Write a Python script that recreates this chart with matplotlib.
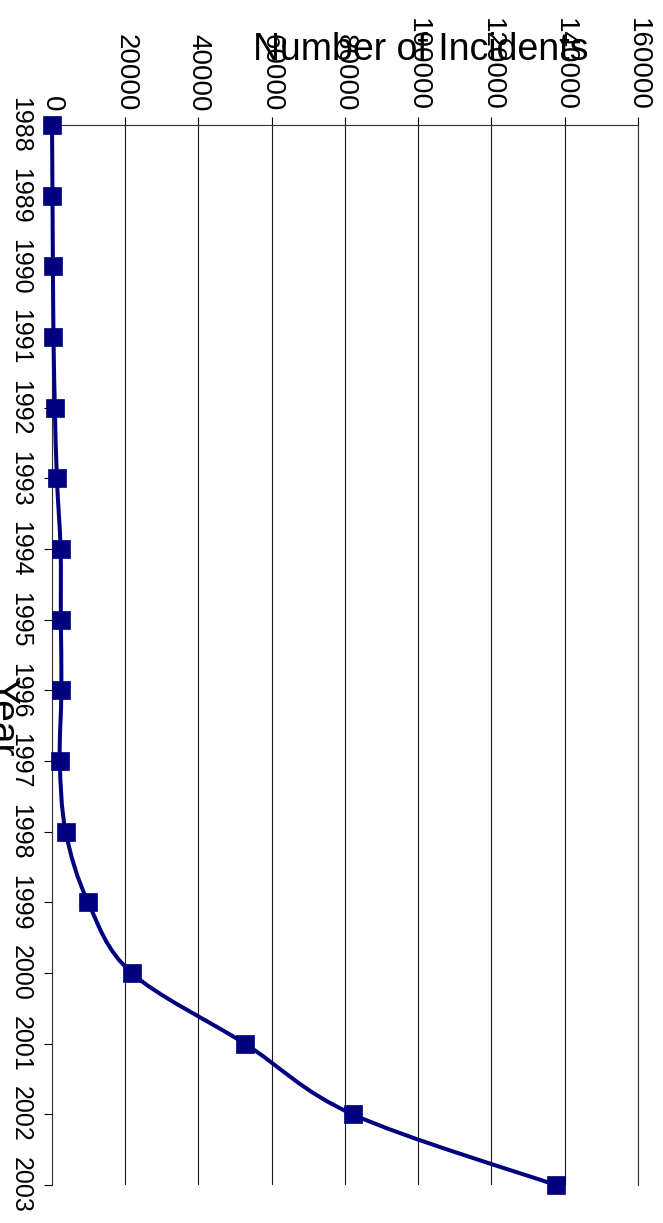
import matplotlib
matplotlib.use("Agg")
import matplotlib.pyplot as plt
from matplotlib.path import Path
from matplotlib.patches import PathPatch

plt.rcParams["font.family"] = ["Liberation Sans", "DejaVu Sans"]

# Reported incidents per year
years = [1988, 1989, 1990, 1991, 1992, 1993, 1994, 1995,
         1996, 1997, 1998, 1999, 2000, 2001, 2002, 2003]
incidents = [6, 132, 252, 406, 773, 1334, 2340, 2412,
             2573, 2134, 3734, 9859, 21756, 52658, 82094, 137529]
value_ticks = [0, 20000, 40000, 60000, 80000, 100000, 120000, 140000, 160000]
value_labels = [str(v) for v in value_ticks]
year_labels = [str(y) for y in years]

W, H = 663, 1223
fig = plt.figure(figsize=(W / 100, H / 100), dpi=100)
fig.patch.set_facecolor("white")

left, right, top, bottom = 52, 638, 125, 1185
ax = fig.add_axes([left / W, 1 - bottom / H, (right - left) / W, (bottom - top) / H])
ax.set_facecolor("white")

navy = "#000080"

# Smoothed line through the points (cubic Bezier segments, Catmull-Rom style)
pts = list(zip(incidents, years))
verts = [pts[0]]
codes = [Path.MOVETO]
n = len(pts)
for i in range(n - 1):
    p0 = pts[i - 1] if i > 0 else pts[i]
    p1 = pts[i]
    p2 = pts[i + 1]
    p3 = pts[i + 2] if i + 2 < n else pts[i + 1]
    c1 = (p1[0] + (p2[0] - p0[0]) / 6.0, p1[1] + (p2[1] - p0[1]) / 6.0)
    c2 = (p2[0] - (p3[0] - p1[0]) / 6.0, p2[1] - (p3[1] - p1[1]) / 6.0)
    verts += [c1, c2, p2]
    codes += [Path.CURVE4, Path.CURVE4, Path.CURVE4]
curve = PathPatch(Path(verts, codes), facecolor="none", edgecolor=navy,
                  lw=2.9, clip_on=False, zorder=3, joinstyle="round")
ax.add_patch(curve)

ax.plot(incidents, years, linestyle="none", marker="s", markersize=12.3,
        markerfacecolor=navy, markeredgecolor=navy, markeredgewidth=0.5,
        clip_on=False, zorder=4)

ax.set_xlim(0, 160000)
ax.set_ylim(2003, 1988)

ax.xaxis.tick_top()
ax.set_xticks(value_ticks)
ax.set_xticklabels(value_labels, rotation=270, fontsize=20, ha="center", va="bottom")
ax.set_yticks(years)
ax.set_yticklabels(year_labels, rotation=270, fontsize=18, ha="right", va="center")

ax.tick_params(axis="x", direction="out", length=6, width=0.8, pad=4, colors="black")
ax.tick_params(axis="y", direction="out", length=6, width=0.8, pad=8, colors="black")

ax.grid(axis="x", color="#1a1a1a", linewidth=0.8, zorder=1)
ax.grid(axis="y", visible=False)
ax.spines["bottom"].set_visible(False)
for side in ["top", "left", "right"]:
    ax.spines[side].set_color("#333333")
    ax.spines[side].set_linewidth(0.8)

fig.text(421 / W, 1 - 60 / H, "Number of Incidents", fontsize=27,
         ha="center", va="baseline")
fig.text(-9 / W, 1 - 717 / H, "Year", fontsize=28, rotation=270,
         rotation_mode="anchor", ha="center", va="baseline")

fig.savefig("out.png", dpi=100, facecolor="white")
